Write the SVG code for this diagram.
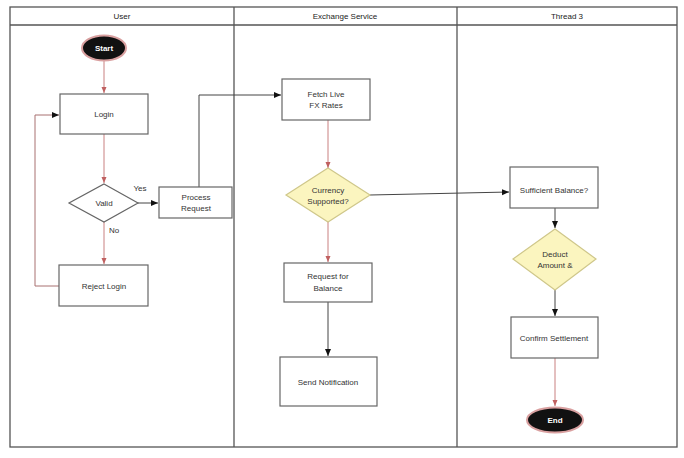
<svg xmlns="http://www.w3.org/2000/svg" width="684" height="458" viewBox="0 0 684 458">
<style>
text{font-family:"Liberation Sans",Arial,sans-serif;font-size:8px;fill:#333;text-anchor:middle;dominant-baseline:central}
.hd{font-size:8px;fill:#222}
.box{fill:#fff;stroke:#666;stroke-width:1.2}
.dia{fill:#fbf5bf;stroke:#cfc78a;stroke-width:1.2}
.vd{fill:#fff;stroke:#666;stroke-width:1.2}
.term{fill:#111;stroke:#d9a0a0;stroke-width:2}
.tt{fill:#fff;font-weight:bold}
.lane{fill:none;stroke:#555;stroke-width:1.3}
.red{fill:none;stroke:#c98080;stroke-width:1}
.blk{fill:none;stroke:#444;stroke-width:1}
.loop{fill:none;stroke:#a87070;stroke-width:1}
</style>
<defs>
<marker id="ab" markerWidth="8" markerHeight="8" refX="7" refY="4" orient="auto" markerUnits="userSpaceOnUse"><path d="M0,1 L7,4 L0,7 Z" fill="#111"/></marker>
<marker id="ar" markerWidth="8" markerHeight="8" refX="6" refY="3" orient="auto" markerUnits="userSpaceOnUse"><path d="M0,0.5 L6,3 L0,5.5 Z" fill="#c06060"/></marker>
</defs>
<rect width="684" height="458" fill="#fff"/>
<g id="lanes">
<rect class="lane" x="10" y="7" width="667" height="440"/>
<line class="lane" x1="10" y1="25" x2="677" y2="25"/>
<line class="lane" x1="234" y1="7" x2="234" y2="447"/>
<line class="lane" x1="457" y1="7" x2="457" y2="447"/>
<text class="hd" x="122" y="16">User</text>
<text class="hd" x="345" y="16">Exchange Service</text>
<text class="hd" x="567" y="16">Thread 3</text>
</g>
<g id="connectors">
<line class="red" x1="104" y1="61" x2="104" y2="93" marker-end="url(#ar)"/>
<line class="red" x1="104" y1="134" x2="104" y2="183" marker-end="url(#ar)"/>
<line class="blk" x1="137" y1="203" x2="158" y2="203" marker-end="url(#ab)"/>
<text x="140" y="188">Yes</text>
<line class="red" x1="104" y1="222" x2="104" y2="264" marker-end="url(#ar)"/>
<text x="114" y="230">No</text>
<polyline class="loop" points="59,286 35,286 35,115 59,115" marker-end="url(#ab)"/>
<polyline class="blk" points="199,187 199,95 281,95" marker-end="url(#ab)"/>
<line class="red" x1="328" y1="120" x2="328" y2="168" marker-end="url(#ar)"/>
<line class="blk" x1="370" y1="195" x2="509" y2="192" marker-end="url(#ab)"/>
<line class="red" x1="328" y1="222" x2="328" y2="262" marker-end="url(#ar)"/>
<line class="blk" x1="328" y1="302" x2="328" y2="356" marker-end="url(#ab)"/>
<line class="blk" x1="555" y1="208" x2="555" y2="228" marker-end="url(#ab)"/>
<line class="blk" x1="555" y1="290" x2="555" y2="316" marker-end="url(#ab)"/>
<line class="red" x1="555" y1="358" x2="555" y2="406" marker-end="url(#ar)"/>
</g>
<g id="start">
<ellipse class="term" cx="104" cy="48" rx="22" ry="12.5"/>
<text class="tt" x="104" y="48">Start</text>
</g>
<g id="login">
<rect class="box" x="60" y="94" width="88" height="40"/>
<text x="104" y="114">Login</text>
</g>
<g id="valid">
<polygon class="vd" points="104,184 138,203 104,222 69,203"/>
<text x="104" y="203">Valid</text>
</g>
<g id="process-request">
<rect class="box" x="159" y="187" width="73" height="31"/>
<text x="196" y="197">Process</text>
<text x="196" y="208">Request</text>
</g>
<g id="reject-login">
<rect class="box" x="59" y="265" width="89" height="41"/>
<text x="104" y="286">Reject Login</text>
</g>
<g id="fetch-rates">
<rect class="box" x="282" y="79" width="88" height="41"/>
<text x="326" y="94">Fetch Live</text>
<text x="326" y="105">FX Rates</text>
</g>
<g id="currency-supported">
<polygon class="dia" points="328,168 370,195 328,222 286,195"/>
<text x="328" y="190">Currency</text>
<text x="328" y="201">Supported?</text>
</g>
<g id="request-balance">
<rect class="box" x="284" y="263" width="88" height="39"/>
<text x="328" y="276">Request for</text>
<text x="328" y="288">Balance</text>
</g>
<g id="send-notification">
<rect class="box" x="280" y="357" width="97" height="49"/>
<text x="328" y="382">Send Notification</text>
</g>
<g id="sufficient-balance">
<rect class="box" x="510" y="167" width="88" height="41"/>
<text x="554" y="190">Sufficient Balance?</text>
</g>
<g id="deduct-amount">
<polygon class="dia" points="555,229 596,259 555,290 513,259"/>
<text x="555" y="254">Deduct</text>
<text x="555" y="265">Amount &amp;</text>
</g>
<g id="confirm-settlement">
<rect class="box" x="511" y="317" width="87" height="41"/>
<text x="554" y="338">Confirm Settlement</text>
</g>
<g id="end">
<ellipse class="term" cx="555" cy="420" rx="28" ry="12.5"/>
<text class="tt" x="555" y="420">End</text>
</g>
</svg>
